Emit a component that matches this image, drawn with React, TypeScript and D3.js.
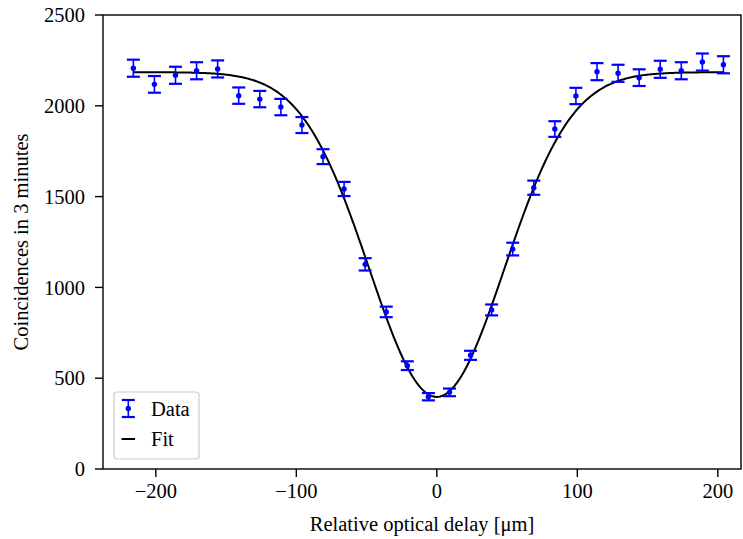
import React from "react";
import * as d3 from "d3";

const delays = [-216, -201, -186, -171, -156, -141, -126, -111, -96, -81, -66, -51, -36, -21, -6, 9, 24, 39, 54, 69, 84, 99, 114, 129, 144, 159, 174, 189, 204];
const coincidences = [2207, 2118, 2168, 2193, 2203, 2056, 2037, 1993, 1894, 1720, 1542, 1127, 865, 569, 398, 422, 626, 876, 1211, 1549, 1872, 2054, 2188, 2179, 2155, 2201, 2193, 2241, 2226];
const errors = [47, 46, 47, 47, 47, 45, 45, 45, 44, 41, 39, 34, 29, 24, 20, 21, 25, 30, 35, 39, 43, 45, 47, 47, 46, 47, 47, 47, 47];
const xTicks = [-200, -100, 0, 100, 200];
const yTicks = [0, 500, 1000, 1500, 2000, 2500];

// Gaussian dip fit parameters
const fitBaseline = 2185;
const fitDepth = 1788;
const fitCenter = 0;
const fitSigma = 48;

const W = 743, H = 539;
const left = 103, right = 741, top = 15, bottom = 469;
const FONT = "'Liberation Serif', 'Times New Roman', serif";
const FS = 20.5;
const BLUE = "#0000ff";

export default function App() {
  const x = d3.scaleLinear().domain([-237.6, 216.5]).range([left, right]);
  const y = d3.scaleLinear().domain([0, 2500]).range([bottom, top]);

  const fitX = d3.range(0, 401).map((i) => delays[0] + (i / 400) * (delays[delays.length - 1] - delays[0]));
  const fitPts: [number, number][] = fitX.map((v) => [
    v,
    fitBaseline - fitDepth * Math.exp(-((v - fitCenter) ** 2) / (2 * fitSigma * fitSigma)),
  ]);
  const line = d3.line<[number, number]>().x((d) => x(d[0])).y((d) => y(d[1]));

  const capHalf = 6.5;
  const tick = 8;

  return (
    <svg width={W} height={H} style={{ position: "absolute", left: 0, top: 0, background: "#fff" }} fontFamily={FONT}>
      <rect x={0} y={0} width={W} height={H} fill="#fff" />
      {/* fit */}
      <path d={line(fitPts) || ""} fill="none" stroke="#000" strokeWidth={2} />
      {/* error bars */}
      {delays.map((d, i) => {
        const cx = x(d);
        const y1 = y(coincidences[i] - errors[i]);
        const y2 = y(coincidences[i] + errors[i]);
        return (
          <g key={i} stroke={BLUE}>
            <line x1={cx} x2={cx} y1={y1} y2={y2} strokeWidth={1.6} />
            <line x1={cx - capHalf} x2={cx + capHalf} y1={y1} y2={y1} strokeWidth={2.2} />
            <line x1={cx - capHalf} x2={cx + capHalf} y1={y2} y2={y2} strokeWidth={2.2} />
            <circle cx={cx} cy={y(coincidences[i])} r={2.7} fill={BLUE} stroke="none" />
          </g>
        );
      })}
      {/* spines */}
      <rect x={left} y={top} width={right - left} height={bottom - top} fill="none" stroke="#000" strokeWidth={1.4} />
      {/* x ticks */}
      {xTicks.map((t) => (
        <g key={t}>
          <line x1={x(t)} x2={x(t)} y1={bottom} y2={bottom + tick} stroke="#000" strokeWidth={1.4} />
          <text x={x(t)} y={bottom + 29} textAnchor="middle" fontSize={FS}>
            {t < 0 ? "\u2212" + Math.abs(t) : String(t)}
          </text>
        </g>
      ))}
      {/* y ticks */}
      {yTicks.map((t) => (
        <g key={t}>
          <line x1={left - tick} x2={left} y1={y(t)} y2={y(t)} stroke="#000" strokeWidth={1.4} />
          <text x={left - 18} y={y(t)} dy="0.35em" textAnchor="end" fontSize={FS}>
            {t}
          </text>
        </g>
      ))}
      {/* axis labels */}
      <text x={(left + right) / 2} y={531} textAnchor="middle" fontSize={FS}>
        Relative optical delay [μm]
      </text>
      <text transform={`translate(28, ${(top + bottom) / 2}) rotate(-90)`} textAnchor="middle" fontSize={FS}>
        Coincidences in 3 minutes
      </text>
      {/* legend */}
      <rect x={114} y={392} width={85} height={67} rx={3} fill="#fff" fillOpacity={0.8} stroke="#cccccc" strokeWidth={1.2} />
      <g stroke={BLUE}>
        <line x1={128.3} x2={128.3} y1={400} y2={417} strokeWidth={1.6} />
        <line x1={121.8} x2={134.8} y1={400} y2={400} strokeWidth={2.2} />
        <line x1={121.8} x2={134.8} y1={417} y2={417} strokeWidth={2.2} />
        <circle cx={128.3} cy={408.5} r={2.7} fill={BLUE} stroke="none" />
      </g>
      <text x={151} y={408.5} dy="0.35em" fontSize={FS}>Data</text>
      <line x1={121.5} x2={135} y1={439} y2={439} stroke="#000" strokeWidth={2} />
      <text x={151} y={439} dy="0.35em" fontSize={FS}>Fit</text>
    </svg>
  );
}
